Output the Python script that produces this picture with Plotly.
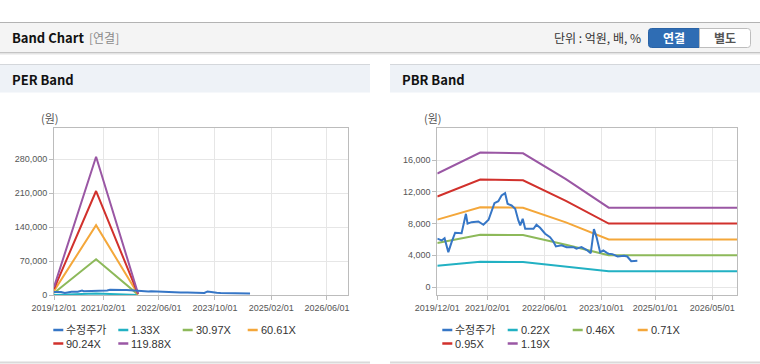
import plotly.graph_objects as go

# ---------------- data ----------------
price_name = "수정주가"
price_dates = ["2019-12-01", "2020-01-07", "2020-02-01", "2020-03-04", "2020-04-01", "2020-05-01",
               "2020-06-25", "2020-08-01", "2020-08-15", "2020-09-18", "2020-11-15", "2020-12-28",
               "2021-02-10", "2021-03-07", "2021-04-01", "2021-05-04", "2021-06-01", "2021-07-01",
               "2021-07-22", "2021-08-25", "2021-09-25", "2021-10-22", "2021-11-07", "2021-11-28",
               "2021-12-19", "2022-02-28", "2022-03-25", "2022-04-25", "2022-06-07", "2022-07-19",
               "2022-08-16", "2022-09-07", "2022-10-25", "2022-12-07", "2023-02-04", "2023-03-01",
               "2023-04-13", "2023-05-25", "2023-07-01", "2023-07-28", "2023-08-19", "2023-09-19",
               "2023-10-16", "2023-11-19", "2023-12-01", "2024-01-01", "2024-02-15", "2024-04-10",
               "2024-05-07", "2024-06-10", "2024-08-01"]
price_values = [6100, 5870, 6160, 4400, 5660, 6840,
                6790, 9230, 7980, 8180, 8260, 7850,
                8480, 9430, 10570, 10820, 11540, 11830,
                10490, 10280, 9860, 8390, 7760, 8600,
                7340, 7340, 7850, 7470, 6720, 6290,
                5750, 5120, 5250, 5030, 5030, 4830,
                5030, 4700, 4280, 7300, 6290, 4400,
                4620, 4280, 4200, 4150, 3850, 3950,
                3850, 3250, 3300]

per_dates = ["2019-12-01", "2020-12-01", "2021-12-01"]
per_names = ["1.33X", "30.97X", "60.61X", "90.24X", "119.88X"]
per_band_133 = [180, 3160, 40]
per_band_3097 = [4250, 73500, 770]
per_band_6061 = [8300, 143800, 1500]
per_band_9024 = [12400, 214200, 2250]
per_band_11988 = [16500, 284700, 3000]

pbr_dates = ["2019-12-01", "2020-12-01", "2021-12-01", "2022-12-01", "2023-12-01", "2026-12-01"]
pbr_names = ["0.22X", "0.46X", "0.71X", "0.95X", "1.19X"]
pbr_band_022 = [2700, 3200, 3150, 2600, 2000, 2000]
pbr_band_046 = [5550, 6600, 6550, 5330, 4000, 4000]
pbr_band_071 = [8500, 10050, 10000, 8150, 6000, 6000]
pbr_band_095 = [11400, 13550, 13450, 10850, 8000, 8000]
pbr_band_119 = [14300, 16950, 16850, 13600, 10000, 10000]

per_xticks = ["2019-12-01", "2021-02-01", "2022-06-01", "2023-10-01", "2025-02-01", "2026-06-01"]
per_xlabels = ["2019/12/01", "2021/02/01", "2022/06/01", "2023/10/01", "2025/02/01", "2026/06/01"]
pbr_xticks = ["2019-12-01", "2021-02-01", "2022-06-01", "2023-10-01", "2025-01-01", "2026-05-01"]
pbr_xlabels = ["2019/12/01", "2021/02/01", "2022/06/01", "2023/10/01", "2025/01/01", "2026/05/01"]
per_yticks = [0, 70000, 140000, 210000, 280000]
pbr_yticks = [0, 4000, 8000, 12000, 16000]

# ---------------- styles ----------------
W, H = 760, 364
price_color = "#3676c6"
band_colors = ["#22b1c3", "#8db95a", "#f4a73a", "#d1312c", "#9a57a4"]
LW = 2


def X(p):
    return p / W


def Y(p):
    return 1 - p / H


fig = go.Figure()

per_bands = [per_band_133, per_band_3097, per_band_6061, per_band_9024, per_band_11988]
for name, vals, col in zip(per_names, per_bands, band_colors):
    fig.add_trace(go.Scatter(x=per_dates, y=vals, name=name, mode="lines",
                             line=dict(color=col, width=LW), xaxis="x", yaxis="y", showlegend=False))
fig.add_trace(go.Scatter(x=price_dates, y=price_values, name=price_name, mode="lines",
                         line=dict(color=price_color, width=LW), xaxis="x", yaxis="y", showlegend=False))

pbr_bands = [pbr_band_022, pbr_band_046, pbr_band_071, pbr_band_095, pbr_band_119]
for name, vals, col in zip(pbr_names, pbr_bands, band_colors):
    fig.add_trace(go.Scatter(x=pbr_dates, y=vals, name=name, mode="lines",
                             line=dict(color=col, width=LW), xaxis="x2", yaxis="y2", showlegend=False))
fig.add_trace(go.Scatter(x=price_dates, y=price_values, name=price_name, mode="lines",
                         line=dict(color=price_color, width=LW), xaxis="x2", yaxis="y2", showlegend=False))

tick_font = dict(family="Liberation Sans, Arial", size=9, color="#555555")
axis_common = dict(showgrid=True, gridcolor="#e6e6e6", gridwidth=1, showline=True, linecolor="#bcbcbc",
                   linewidth=1, mirror=True, ticks="outside", ticklen=4, tickcolor="#bcbcbc",
                   tickfont=tick_font, zeroline=False, fixedrange=True, automargin=False, tickangle=0)

fig.update_layout(
    width=W, height=H, margin=dict(l=0, r=0, t=0, b=0, autoexpand=False),
    paper_bgcolor="white", plot_bgcolor="white", showlegend=False,
    xaxis=dict(domain=[X(54), X(348)], type="date", range=["2019-12-01", "2026-12-01"],
               tickmode="array", tickvals=per_xticks, ticktext=per_xlabels, anchor="y", **axis_common),
    yaxis=dict(domain=[Y(295), Y(128)], range=[0, 344000], tickmode="array", tickvals=per_yticks,
               ticktext=[f"{v:,}" for v in per_yticks], anchor="x", **axis_common),
    xaxis2=dict(domain=[X(437.3), X(737.3)], type="date", range=["2019-12-01", "2026-12-01"],
                tickmode="array", tickvals=pbr_xticks, ticktext=pbr_xlabels, anchor="y2", **axis_common),
    yaxis2=dict(domain=[Y(295), Y(128.3)], range=[-1000, 20000], tickmode="array", tickvals=pbr_yticks,
                ticktext=[f"{v:,}" for v in pbr_yticks], anchor="x2", **axis_common),
)

shapes = []


def rect(x0, y0, x1, y1, fill, line=None, lw=0):
    shapes.append(dict(type="rect", xref="paper", yref="paper", x0=X(x0), x1=X(x1), y0=Y(y1), y1=Y(y0),
                       fillcolor=fill, line=dict(color=line or fill, width=lw), layer="below"))


def hline(x0, x1, y, color, w=1):
    shapes.append(dict(type="line", xref="paper", yref="paper", x0=X(x0), x1=X(x1), y0=Y(y), y1=Y(y),
                       line=dict(color=color, width=w)))


def rpath(x0, y0, x1, y1, r, left, right, fill, line):
    pts = []
    if left:
        pts.append(f"M{X(x0 + r)},{Y(y0)}")
    else:
        pts.append(f"M{X(x0)},{Y(y0)}")
    if right:
        pts.append(f"L{X(x1 - r)},{Y(y0)} Q{X(x1)},{Y(y0)} {X(x1)},{Y(y0 + r)}")
        pts.append(f"L{X(x1)},{Y(y1 - r)} Q{X(x1)},{Y(y1)} {X(x1 - r)},{Y(y1)}")
    else:
        pts.append(f"L{X(x1)},{Y(y0)} L{X(x1)},{Y(y1)}")
    if left:
        pts.append(f"L{X(x0 + r)},{Y(y1)} Q{X(x0)},{Y(y1)} {X(x0)},{Y(y1 - r)}")
        pts.append(f"L{X(x0)},{Y(y0 + r)} Q{X(x0)},{Y(y0)} {X(x0 + r)},{Y(y0)}")
    else:
        pts.append(f"L{X(x0)},{Y(y1)}")
    pts.append("Z")
    shapes.append(dict(type="path", xref="paper", yref="paper", path=" ".join(pts),
                       fillcolor=fill, line=dict(color=line, width=1)))


# header bar
rect(0, 22.5, 760, 52.5, "#f4f4f4")
hline(0, 760, 22.5, "#b3b3b3", 1)
hline(0, 760, 52.5, "#c4c4c4", 1)
hline(0, 760, 53.5, "#e4e4e4", 1)
hline(0, 760, 54.5, "#f1f1f1", 1)
# buttons
rpath(648.5, 28.5, 699.5, 47.5, 3, True, False, "#2f6db4", "#2a63a6")
rpath(699.5, 28.5, 750.5, 47.5, 3, False, True, "#ffffff", "#bdbdbd")
# panel headers
for px0, px1 in [(0, 370), (390, 760)]:
    rect(px0, 64.5, px1, 92.5, "#eef2f7")
    hline(px0, px1, 64.5, "#d4d7db", 1)
    hline(px0, px1, 362.5, "#dadada", 2)

# legends (built from the series names / colours)
leg_rows_per = [(price_name, price_color, 53.3, 330), (per_names[0], band_colors[0], 118.3, 330),
                (per_names[1], band_colors[1], 182.7, 330), (per_names[2], band_colors[2], 247.7, 330),
                (per_names[3], band_colors[3], 53.3, 343.5), (per_names[4], band_colors[4], 118.3, 343.5)]
leg_rows_pbr = [(price_name, price_color, 442.3, 330), (pbr_names[0], band_colors[0], 507.7, 330),
                (pbr_names[1], band_colors[1], 572.7, 330), (pbr_names[2], band_colors[2], 637.7, 330),
                (pbr_names[3], band_colors[3], 442.3, 343.5), (pbr_names[4], band_colors[4], 507.7, 343.5)]

annotations = []


def text(x, y, s, size=12, color="#333333", anchor="left", family="Noto Sans CJK KR, Liberation Sans"):
    annotations.append(dict(xref="paper", yref="paper", x=X(x), y=Y(y), text=s, showarrow=False,
                            xanchor=anchor, yanchor="middle", borderpad=0,
                            font=dict(size=size, color=color, family=family)))


leg_font = "Liberation Sans, Noto Sans CJK KR"
for name, col, lx, ly in leg_rows_per + leg_rows_pbr:
    shapes.append(dict(type="line", xref="paper", yref="paper", x0=X(lx), x1=X(lx + 10), y0=Y(ly), y1=Y(ly),
                       line=dict(color=col, width=2.5)))
    text(lx + 12, ly, name, size=11, color="#333333", family=leg_font)

text(11, 38, "<b>Band Chart</b>", size=13, color="#111111")
text(88, 38, "[연결]", size=12, color="#8a8a8a")
text(642, 38, "단위 : 억원, 배, %", size=12, color="#333333", anchor="right")
text(674, 38, "<b>연결</b>", size=12, color="#ffffff", anchor="center")
text(725, 38, "<b>별도</b>", size=12, color="#555555", anchor="center")
text(11, 79, "<b>PER Band</b>", size=13, color="#111111")
text(401, 79, "<b>PBR Band</b>", size=13, color="#111111")
text(50, 118, "(원)", size=11, color="#555555", anchor="center")
text(432.5, 118, "(원)", size=11, color="#555555", anchor="center")

fig.update_layout(shapes=shapes, annotations=annotations)
fig.write_html("out.html", config={"displayModeBar": False},
               post_script="document.body.style.margin='0';document.body.style.overflow='hidden';")
